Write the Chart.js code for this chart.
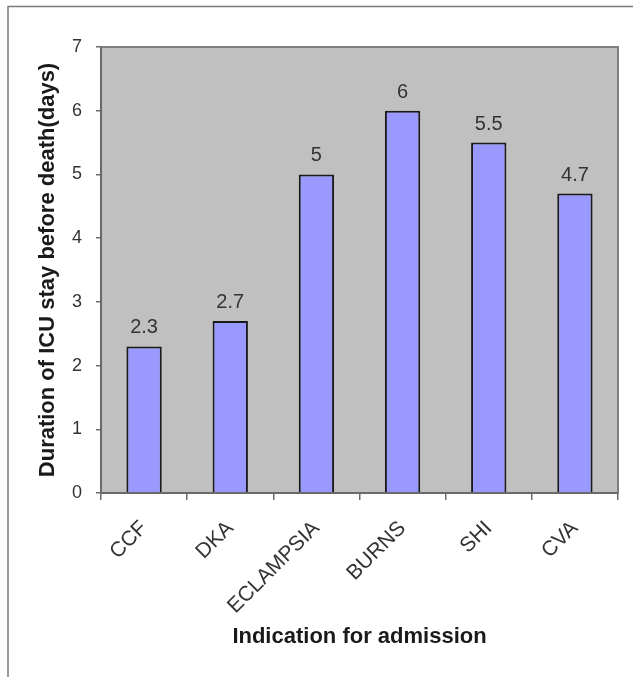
<!DOCTYPE html>
<html>
<head>
<meta charset="utf-8">
<script src="https://cdn.jsdelivr.net/npm/chart.js@4"></script>
<style>
  html, body { margin: 0; padding: 0; background: #ffffff; }
  #wrap { position: relative; width: 633px; height: 677px; }
</style>
</head>
<body>
<div id="wrap"><canvas id="chart" width="633" height="677"></canvas></div>
<script>
// ICU stay duration before death, by indication for admission
const categories = ['CCF', 'DKA', 'ECLAMPSIA', 'BURNS', 'SHI', 'CVA'];
const durationDays = [2.3, 2.7, 5, 6, 5.5, 4.7];
const yTicks = [0, 1, 2, 3, 4, 5, 6, 7];

const FONT = '"Liberation Sans", Arial, Helvetica, sans-serif';

// Frame, grey plot panel, panel border and value labels
const decorations = {
  id: 'decorations',
  beforeDraw(chart) {
    const ctx = chart.ctx;
    ctx.save();
    ctx.fillStyle = '#ffffff';
    ctx.fillRect(0, 0, chart.width, chart.height);
    // outer frame (top and left edges)
    ctx.strokeStyle = '#7a7a7a';
    ctx.lineWidth = 1.5;
    ctx.beginPath();
    ctx.moveTo(8, chart.height);
    ctx.lineTo(8, 6.5);
    ctx.lineTo(chart.width, 6.5);
    ctx.stroke();
    const a = chart.chartArea;
    ctx.fillStyle = '#c0c0c0';
    ctx.fillRect(a.left, a.top, a.right - a.left, a.bottom - a.top);
    ctx.restore();
  },
  afterDatasetsDraw(chart) {
    const ctx = chart.ctx;
    const a = chart.chartArea;
    ctx.save();
    ctx.strokeStyle = '#808080';
    ctx.lineWidth = 2;
    ctx.strokeRect(a.left, a.top, a.right - a.left, a.bottom - a.top);
    // axis lines
    ctx.strokeStyle = '#6a6a6a';
    ctx.beginPath();
    ctx.moveTo(a.left, a.top);
    ctx.lineTo(a.left, a.bottom);
    ctx.lineTo(a.right, a.bottom);
    ctx.stroke();
    // value labels above bars
    ctx.fillStyle = '#333333';
    ctx.font = '20px ' + FONT;
    ctx.textAlign = 'center';
    ctx.textBaseline = 'alphabetic';
    const meta = chart.getDatasetMeta(0);
    meta.data.forEach((bar, i) => {
      ctx.fillText(String(durationDays[i]), bar.x, bar.y - 13);
    });
    ctx.restore();
  }
};

new Chart(document.getElementById('chart'), {
  type: 'bar',
  data: {
    labels: categories,
    datasets: [{
      data: durationDays,
      backgroundColor: '#9999ff',
      borderColor: '#1a1a1a',
      borderWidth: 2,
      barPercentage: 0.41,
      categoryPercentage: 1.0
    }]
  },
  options: {
    responsive: false,
    animation: false,
    devicePixelRatio: 1,
    layout: { padding: { top: 47, right: 15, left: 0, bottom: 0 } },
    plugins: {
      legend: { display: false },
      tooltip: { enabled: false }
    },
    scales: {
      x: {
        afterFit(scale) { scale.height = 184; },
        grid: {
          display: true,
          offset: true,
          drawOnChartArea: false,
          drawTicks: true,
          tickLength: 7,
          tickColor: '#6a6a6a',
          lineWidth: 1.5
        },
        border: { display: false },
        ticks: {
          autoSkip: false,
          minRotation: 45,
          maxRotation: 45,
          padding: 16,
          color: '#333333',
          font: { family: FONT, size: 21 }
        },
        title: {
          display: true,
          text: 'Indication for admission',
          color: '#1a1a1a',
          font: { family: FONT, size: 22, weight: 'bold' },
          padding: { top: 0, bottom: 27 }
        }
      },
      y: {
        min: 0,
        max: 7,
        afterFit(scale) { scale.width = 101; },
        afterBuildTicks(scale) { scale.ticks = yTicks.map(v => ({ value: v })); },
        grid: {
          display: true,
          drawOnChartArea: false,
          drawTicks: true,
          tickLength: 5,
          tickColor: '#6a6a6a',
          lineWidth: 1.5
        },
        border: { display: false },
        ticks: {
          padding: 14,
          color: '#333333',
          font: { family: FONT, size: 18 }
        },
        title: {
          display: true,
          text: 'Duration of ICU stay before death(days)',
          color: '#1a1a1a',
          font: { family: FONT, size: 22, weight: 'bold' },
          padding: { top: 35, bottom: 0 }
        }
      }
    }
  },
  plugins: [decorations]
});
</script>
</body>
</html>
